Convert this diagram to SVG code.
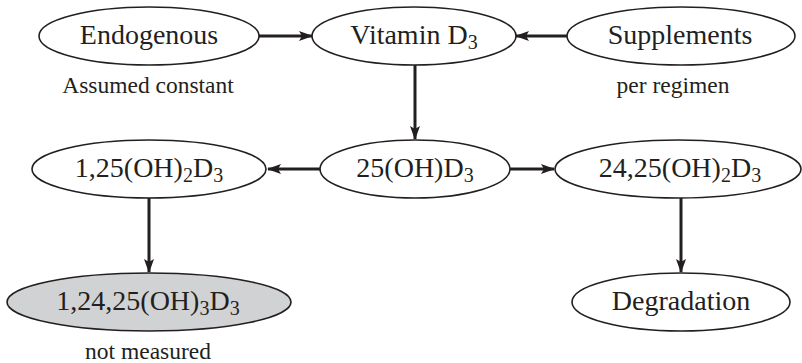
<svg xmlns="http://www.w3.org/2000/svg" width="802" height="363" viewBox="0 0 802 363">
<style>
.node ellipse{fill:#fff;stroke:#231f20;stroke-width:1.6}
.node.grey ellipse{fill:#d1d2d4}
text{font-family:'Liberation Serif','DejaVu Serif',serif;fill:#231f20;text-anchor:middle}
.lbl{font-size:28px}
.sub{font-size:20px}
.note{font-size:23.5px}
.edge{stroke:#231f20;stroke-width:3;fill:none;marker-end:url(#ah)}
</style>
<defs>
<marker id="ah" viewBox="0 0 14 10" refX="13" refY="5" markerWidth="14" markerHeight="10" markerUnits="userSpaceOnUse" orient="auto">
<path d="M0,0 L14,5 L0,10 L3,5 z" fill="#231f20"/>
</marker>
</defs>
<g id="connectors">
<line class="edge" x1="259" y1="36" x2="312" y2="36"/>
<line class="edge" x1="567" y1="36" x2="516" y2="36"/>
<line class="edge" x1="415" y1="65" x2="415" y2="139"/>
<line class="edge" x1="321" y1="169" x2="268" y2="169"/>
<line class="edge" x1="510" y1="169" x2="554" y2="169"/>
<line class="edge" x1="149" y1="198" x2="149" y2="272"/>
<line class="edge" x1="681" y1="198" x2="681" y2="272"/>
</g>
<g id="endogenous" class="node">
<ellipse cx="149" cy="36" rx="110" ry="29"/>
<text class="lbl" x="149" y="44">Endogenous</text>
<text class="note" x="148" y="93">Assumed constant</text>
</g>
<g id="vitaminD3" class="node">
<ellipse cx="414" cy="36" rx="102" ry="29"/>
<text class="lbl" x="414" y="44">Vitamin D<tspan class="sub" dy="5">3</tspan></text>
</g>
<g id="supplements" class="node">
<ellipse cx="681" cy="36" rx="114" ry="29"/>
<text class="lbl" x="680" y="44">Supplements</text>
<text class="note" x="673" y="93">per regimen</text>
</g>
<g id="OH25D3" class="node">
<ellipse cx="415" cy="169" rx="95" ry="29"/>
<text class="lbl" x="415" y="177">25(OH)D<tspan class="sub" dy="5">3</tspan></text>
</g>
<g id="OH2_125D3" class="node">
<ellipse cx="149" cy="169" rx="117" ry="29"/>
<text class="lbl" x="149" y="177">1,25(OH)<tspan class="sub" dy="5">2</tspan><tspan dy="-5">D</tspan><tspan class="sub" dy="5">3</tspan></text>
</g>
<g id="OH2_2425D3" class="node">
<ellipse cx="678" cy="169" rx="123" ry="29"/>
<text class="lbl" x="680" y="177">24,25(OH)<tspan class="sub" dy="5">2</tspan><tspan dy="-5">D</tspan><tspan class="sub" dy="5">3</tspan></text>
</g>
<g id="OH3_12425D3" class="node grey">
<ellipse cx="149" cy="302" rx="142" ry="29"/>
<text class="lbl" x="148" y="310">1,24,25(OH)<tspan class="sub" dy="5">3</tspan><tspan dy="-5">D</tspan><tspan class="sub" dy="5">3</tspan></text>
<text class="note" x="148" y="359">not measured</text>
</g>
<g id="degradation" class="node">
<ellipse cx="681" cy="302" rx="109" ry="29"/>
<text class="lbl" x="681" y="310">Degradation</text>
</g>
</svg>
